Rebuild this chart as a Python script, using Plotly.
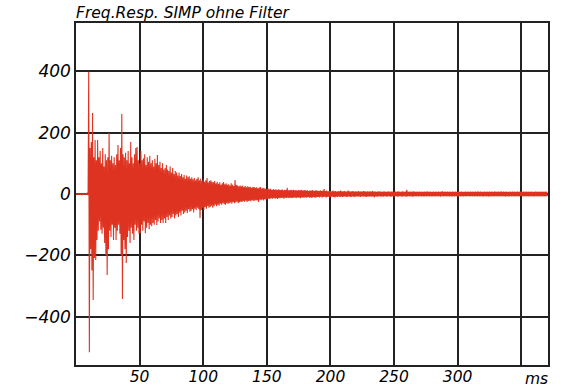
import plotly.graph_objects as go

# time axis in ms (1 ms bins)
T_MS = list(range(371))

# per-bin upper envelope (max) of the response
HI = [
    3, 2, 3, 2, 3, 2, 3, 2, 3, 4,
    399, 150, 170, 264, 120, 176, 110, 176, 120, 140,
    100, 150, 90, 130, 110, 120, 199, 110, 125, 100,
    120, 95, 130, 160, 110, 150, 261, 130, 120, 135,
    110, 140, 100, 170, 120, 100, 130, 150, 153, 110,
    100, 140, 110, 117, 130, 95, 120, 105, 125, 100,
    110, 90, 115, 100, 127, 95, 105, 85, 100, 80,
    85, 95, 80, 75, 90, 70, 85, 65, 75, 70,
    60, 70, 59, 65, 55, 62, 50, 60, 55, 58,
    50, 55, 48, 52, 45, 50, 55, 45, 50, 42,
    48, 40, 45, 52, 38, 42, 45, 40, 38, 42,
    35, 40, 33, 38, 30, 35, 39, 32, 35, 30,
    32, 28, 35, 30, 26, 46, 30, 28, 25, 28,
    25, 28, 23, 26, 22, 25, 23, 24, 20, 23,
    23, 20, 22, 19, 21, 23, 18, 20, 19, 17,
    16, 18, 15, 17, 13, 16, 14, 15, 13, 15,
    14, 13, 15, 12, 14, 13, 20, 12, 13, 14,
    12, 14, 12, 13, 11, 13, 12, 14, 11, 12,
    13, 11, 12, 10, 12, 11, 13, 10, 12, 11,
    11, 10, 12, 10, 11, 16, 10, 11, 9, 10,
    10, 9, 11, 9, 10, 8, 10, 9, 11, 9,
    9, 10, 8, 9, 11, 9, 8, 10, 9, 8,
    9, 8, 10, 8, 9, 8, 10, 9, 8, 9,
    8, 9, 8, 10, 8, 9, 7, 8, 9, 8,
    8, 7, 9, 8, 7, 8, 9, 7, 8, 8,
    7, 8, 7, 9, 8, 7, 8, 9, 7, 8,
    14, 8, 7, 8, 7, 9, 8, 7, 8, 7,
    8, 7, 8, 7, 8, 7, 9, 7, 8, 7,
    7, 8, 7, 8, 7, 8, 7, 8, 9, 7,
    8, 7, 8, 7, 8, 7, 8, 7, 8, 7,
    7, 8, 7, 8, 7, 7, 8, 7, 8, 7,
    8, 7, 8, 7, 8, 7, 9, 7, 8, 7,
    7, 8, 7, 8, 7, 8, 7, 8, 7, 8,
    8, 7, 8, 7, 9, 7, 8, 7, 8, 7,
    7, 8, 7, 8, 7, 8, 7, 8, 7, 8,
    8, 7, 8, 7, 8, 7, 8, 7, 8, 7,
    7, 8, 7, 8, 7, 8, 7, 8, 7, 8,
    7,
]

# per-bin lower envelope (min) of the response
LO = [
    -2, -3, -2, -3, -2, -3, -2, -3, -2, -4,
    -516, -180, -250, -346, -209, -215, -150, -120, -90, -117,
    -130, -110, -160, -200, -264, -180, -120, -140, -100, -150,
    -110, -150, -120, -100, -130, -200, -343, -150, -180, -225,
    -140, -120, -160, -110, -130, -150, -100, -120, -110, -130,
    -128, -100, -120, -90, -128, -110, -95, -115, -100, -105,
    -95, -100, -85, -101, -90, -80, -95, -85, -95, -80,
    -95, -75, -85, -70, -80, -75, -65, -80, -70, -65,
    -75, -60, -70, -55, -65, -60, -55, -62, -50, -58,
    -55, -50, -60, -48, -52, -45, -50, -78, -52, -45,
    -52, -42, -48, -40, -45, -42, -38, -45, -40, -35,
    -40, -35, -38, -32, -35, -30, -33, -35, -30, -32,
    -30, -28, -32, -26, -30, -28, -25, -30, -27, -25,
    -26, -23, -25, -22, -26, -23, -22, -24, -20, -22,
    -22, -20, -21, -26, -19, -20, -18, -21, -17, -19,
    -17, -15, -16, -14, -15, -13, -15, -14, -16, -13,
    -14, -12, -13, -15, -12, -13, -12, -14, -12, -13,
    -13, -11, -12, -13, -11, -12, -14, -11, -12, -11,
    -11, -12, -10, -12, -11, -13, -10, -11, -12, -10,
    -10, -11, -9, -11, -10, -9, -11, -10, -9, -11,
    -10, -9, -10, -11, -9, -10, -8, -10, -9, -10,
    -9, -8, -10, -9, -8, -10, -9, -8, -10, -9,
    -8, -9, -8, -10, -8, -9, -8, -9, -10, -8,
    -9, -8, -9, -8, -11, -8, -9, -8, -7, -9,
    -8, -9, -7, -8, -9, -7, -8, -9, -8, -7,
    -8, -7, -9, -8, -7, -8, -9, -7, -8, -9,
    -8, -7, -8, -7, -9, -8, -7, -8, -7, -8,
    -7, -8, -7, -9, -7, -8, -7, -8, -7, -8,
    -8, -7, -8, -7, -8, -7, -9, -7, -8, -7,
    -7, -8, -7, -8, -7, -9, -7, -8, -7, -8,
    -8, -7, -8, -7, -8, -7, -8, -7, -7, -8,
    -7, -8, -7, -8, -7, -8, -7, -8, -7, -8,
    -8, -7, -8, -7, -9, -7, -8, -7, -8, -7,
    -7, -8, -7, -8, -7, -8, -7, -9, -7, -8,
    -8, -7, -8, -7, -8, -7, -8, -7, -8, -7,
    -7, -8, -7, -8, -7, -8, -7, -8, -7, -8,
    -8, -7, -8, -7, -8, -7, -8, -7, -8, -7,
    -7,
]

X_TICKS = [50, 100, 150, 200, 250, 300, 350]
X_TICK_TEXT = ["50", "100", "150", "200", "250", "300", ""]
Y_TICKS = [-400, -200, 0, 200, 400]
Y_TICK_TEXT = ["\u2212400", "\u2212200", "0", "200", "400"]
TITLE = "Freq.Resp. SIMP ohne Filter"
UNIT = "ms"

xs, ys = [], []
for t, h, l in zip(T_MS, HI, LO):
    xs += [t, t + 0.5]
    ys += [h, l]

fig = go.Figure()
fig.add_trace(go.Scatter(x=xs, y=ys, mode="lines",
                         line=dict(color="#dd3320", width=1.1),
                         hoverinfo="skip", showlegend=False))

yfont = dict(family="DejaVu Sans", size=17, color="black", style="italic")
xfont = dict(family="DejaVu Sans", size=15.5, color="black", style="italic")
fig.update_layout(
    width=580, height=387,
    margin=dict(l=76, r=32, t=23, b=22, autoexpand=False),
    paper_bgcolor="white", plot_bgcolor="white",
    title=dict(text=TITLE, x=0, xref="paper", xanchor="left",
               y=1 - 12.5 / 387, yanchor="middle", pad=dict(t=0, b=0, l=0, r=0),
               font=dict(family="DejaVu Sans", size=15.5, color="black", style="italic")),
    xaxis=dict(range=[0, 371], tickvals=X_TICKS, ticktext=X_TICK_TEXT,
               showgrid=True, gridcolor="#222", gridwidth=1.5,
               showline=True, linecolor="#222", linewidth=1.5, mirror=True,
               ticks="", zeroline=False, tickfont=xfont, ticklabelstandoff=-3,
               automargin=False),
    yaxis=dict(range=[-558, 558], tickvals=Y_TICKS, ticktext=Y_TICK_TEXT,
               showgrid=True, gridcolor="#222", gridwidth=1.5,
               showline=True, linecolor="#222", linewidth=1.5, mirror=True,
               ticks="", zeroline=False, tickfont=yfont, ticklabelstandoff=0,
               automargin=False),
    annotations=[dict(text=UNIT, x=362, xref="x", y=-0.042, yref="paper",
                      xanchor="center", yanchor="middle", showarrow=False,
                      font=xfont)],
)

# remove the default 8px page margin so the figure sits at the window's corner
fig.write_html("out.html", config={"displayModeBar": False},
               post_script="document.body.style.margin='0';")
